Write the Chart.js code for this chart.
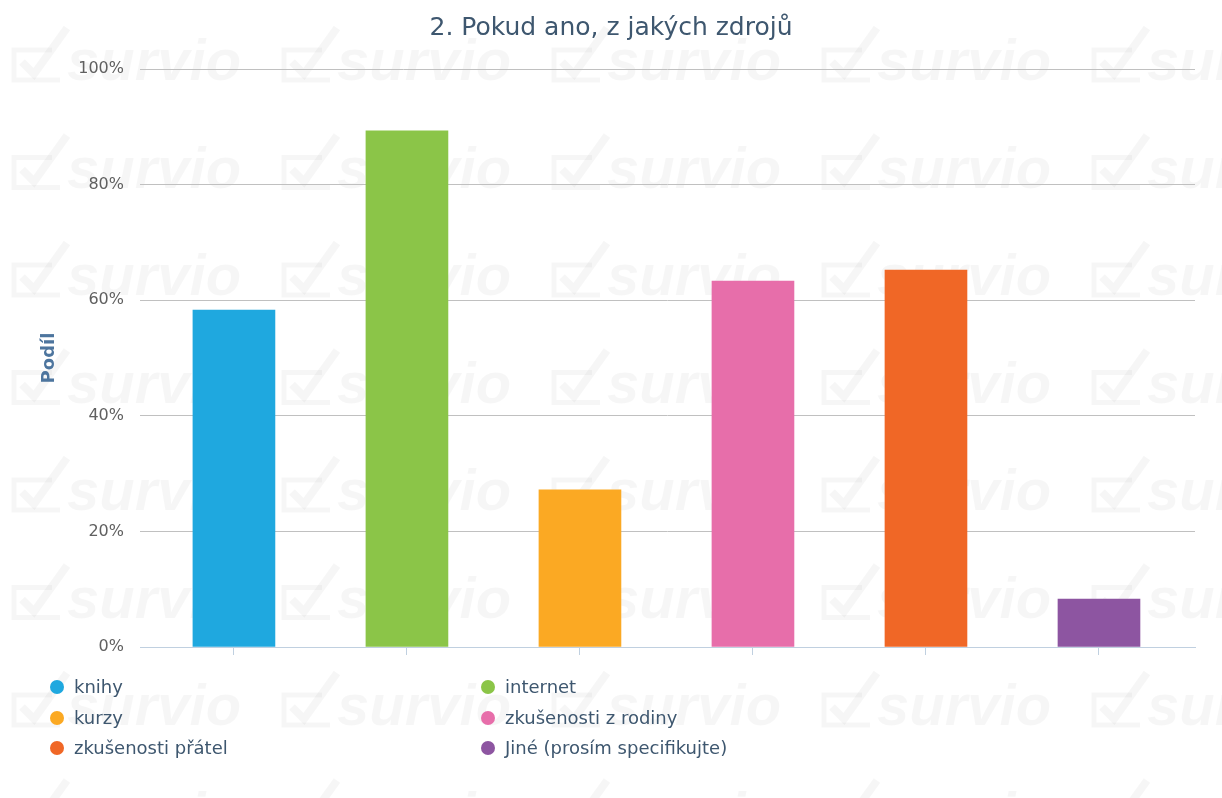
<!DOCTYPE html>
<html>
<head>
<meta charset="utf-8">
<script src="https://cdn.jsdelivr.net/npm/chart.js@4.4.1/dist/chart.umd.min.js"></script>
<style>
  html, body { margin: 0; padding: 0; background: #ffffff; }
  #wrap { position: relative; width: 1222px; height: 798px; }
  #legend { position: absolute; left: 0; top: 0; width: 1222px; height: 798px; pointer-events: none;
            font-family: "DejaVu Sans", sans-serif; font-size: 18px; color: #3E576F; }
  .item { position: absolute; height: 24px; line-height: 24px; white-space: nowrap; }
  .dot { position: absolute; width: 14px; height: 14px; border-radius: 50%; top: 5px; }
  .txt { position: absolute; left: 24px; top: 0; }
</style>
</head>
<body>
<div id="wrap">
  <canvas id="c" width="1222" height="798"></canvas>
  <div id="legend"></div>
</div>
<script>
const titleText = "2. Pokud ano, z jakých zdrojů";
const yAxisTitle = "Podíl";
const categories = ["knihy", "internet", "kurzy", "zkušenosti z rodiny", "zkušenosti přátel", "Jiné (prosím specifikujte)"];
const values = [58.3, 89.3, 27.2, 63.3, 65.2, 8.3];
const colors = ["#1FA8DF", "#8BC548", "#FBA923", "#E76EAA", "#F06726", "#8D55A1"];
const yTicks = [0, 20, 40, 60, 80, 100];

// Legend layout (two columns, ordered left-right, top-bottom)
const legendEl = document.getElementById('legend');
categories.forEach((name, i) => {
  const col = i % 2, row = Math.floor(i / 2);
  const it = document.createElement('div');
  it.className = 'item';
  it.style.left = (col === 0 ? 50 : 481) + 'px';
  it.style.top = (675 + row * 30.5) + 'px';
  const d = document.createElement('span');
  d.className = 'dot';
  d.style.background = colors[i];
  const t = document.createElement('span');
  t.className = 'txt';
  t.textContent = name;
  it.appendChild(d); it.appendChild(t);
  legendEl.appendChild(it);
});

const watermark = {
  id: 'watermark',
  beforeDraw(chart) {
    const ctx = chart.ctx;
    ctx.save();
    ctx.fillStyle = 'rgba(0,0,0,0.035)';
    ctx.strokeStyle = 'rgba(0,0,0,0.035)';
    ctx.font = 'italic bold 58px "Liberation Sans", sans-serif';
    ctx.textBaseline = 'alphabetic';
    for (let r = 0; r < 8; r++) {
      const by = 80 + r * 107.5;
      for (let c = 0; c < 5; c++) {
        const bx = 12 + c * 270;
        ctx.lineWidth = 5;
        ctx.beginPath();
        ctx.moveTo(bx + 40, by - 30);
        ctx.lineTo(bx + 2, by - 30);
        ctx.lineTo(bx + 2, by);
        ctx.lineTo(bx + 48, by);
        ctx.stroke();
        ctx.lineWidth = 8;
        ctx.beginPath();
        ctx.moveTo(bx + 10, by - 18);
        ctx.lineTo(bx + 22, by - 6);
        ctx.lineTo(bx + 55, by - 52);
        ctx.stroke();
        ctx.fillText('survio', bx + 55, by);
      }
    }
    ctx.restore();
  }
};

new Chart(document.getElementById('c'), {
  type: 'bar',
  data: {
    labels: categories,
    datasets: [{
      label: yAxisTitle,
      data: values.map((v, i) => ({ x: i, y: v })),
      backgroundColor: colors,
      borderWidth: 0,
      barThickness: 82
    }]
  },
  options: {
    responsive: false,
    animation: false,
    events: [],
    layout: { padding: 0 },
    plugins: {
      legend: { display: false },
      tooltip: { enabled: false },
      title: {
        display: true,
        text: titleText,
        color: '#3E576F',
        font: { family: '"DejaVu Sans", sans-serif', size: 25, weight: 'normal' },
        padding: { top: 13, bottom: 26 }
      }
    },
    scales: {
      x: {
        type: 'linear',
        offset: false,
        min: -0.543,
        max: 5.555,
        afterBuildTicks(scale) { scale.ticks = categories.map((_, i) => ({ value: i })); },
        afterFit(scale) { scale.height = 151; },
        ticks: { display: false },
        grid: { offset: false, drawOnChartArea: false, drawTicks: true, tickLength: 8, color: '#C0D0E0', lineWidth: 1 },
        border: { display: true, color: '#C0D0E0', width: 1 }
      },
      y: {
        min: 0,
        max: 100,
        afterBuildTicks(scale) { scale.ticks = yTicks.map(v => ({ value: v })); },
        afterFit(scale) { scale.width = 140; },
        ticks: {
          padding: 16,
          color: '#606060',
          font: { family: '"DejaVu Sans", sans-serif', size: 16 },
          callback: v => v + '%'
        },
        grid: {
          drawTicks: false,
          color: ctx => (ctx.tick && ctx.tick.value === 0) ? 'rgba(0,0,0,0)' : '#C0C0C0',
          lineWidth: 1
        },
        border: { display: false },
        title: {
          display: true,
          text: yAxisTitle,
          color: '#4D759E',
          font: { family: '"DejaVu Sans", sans-serif', size: 18, weight: 'bold' },
          padding: { top: 39, bottom: 0 }
        }
      },
      yRight: {
        position: 'right',
        display: true,
        min: 0,
        max: 100,
        afterFit(scale) { scale.width = 27; },
        ticks: { display: false },
        grid: { display: false, drawTicks: false },
        border: { display: false }
      }
    }
  },
  plugins: [watermark]
});
</script>
</body>
</html>
